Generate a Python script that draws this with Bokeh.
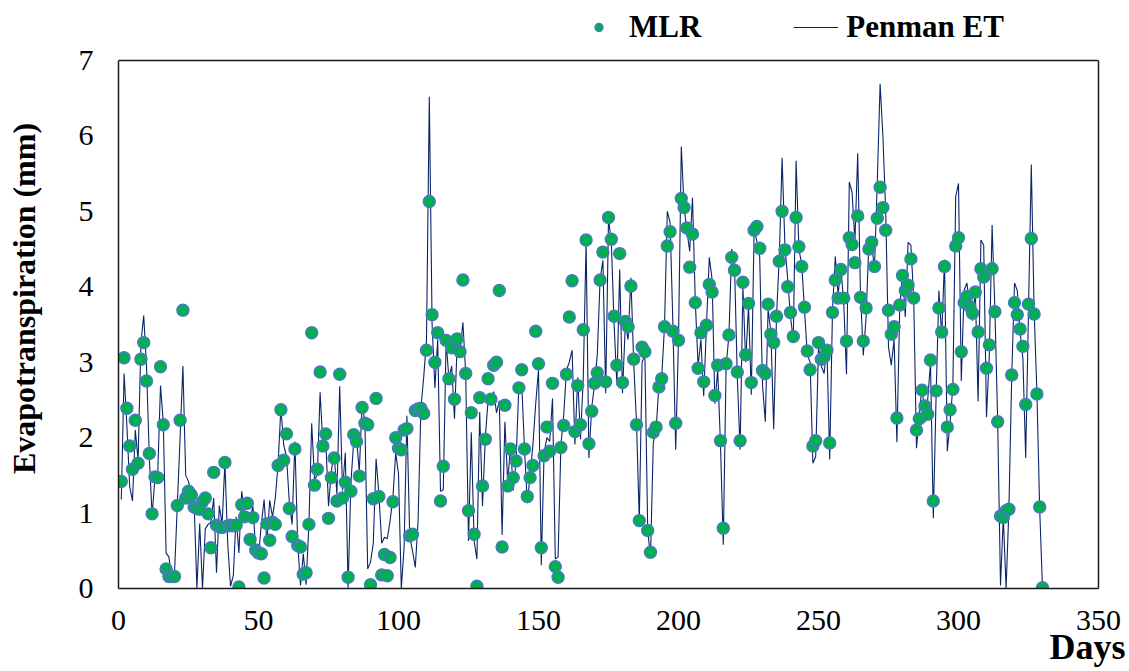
from bokeh.plotting import figure
from bokeh.models import (ColumnDataSource, FixedTicker, Legend, LegendItem, Title,
                          LinearAxis, Span)
from bokeh.embed import file_html
from bokeh.resources import INLINE

# Daily evapotranspiration (mm): MLR model estimate vs. Penman reference ET
days = list(range(1, 331))

mlr_et = [
    1.42, 3.06, 2.39, 1.89, 1.58, 2.23, 1.66, 3.04, 3.26, 2.75,
    1.79, 0.99, 1.48, 1.47, 2.94, 2.17, 0.26, 0.16, 0.16, 0.16,
    1.10, 2.23, 3.69, 1.20, 1.29, 1.24, 1.08, 1.06, 1.05, 1.15,
    1.20, 0.99, 0.54, 1.54, 0.84, 0.82, 0.81, 1.67, 0.83, 0.84,
    0.83, 0.84, 0.02, 1.11, 0.95, 1.13, 0.65, 0.94, 0.51, 0.47,
    0.46, 0.14, 0.86, 0.64, 0.88, 0.85, 1.63, 2.37, 1.70, 2.05,
    1.06, 0.69, 1.85, 0.57, 0.55, 0.19, 0.21, 0.85, 3.39, 1.37,
    1.58, 2.87, 1.89, 2.05, 0.93, 1.47, 1.73, 1.16, 2.84, 1.20,
    1.41, 0.15, 1.29, 2.04, 1.95, 1.49, 2.40, 2.19, 2.17, 0.05,
    1.19, 2.52, 1.22, 0.18, 0.45, 0.17, 0.41, 1.15, 2.00, 1.86,
    1.84, 2.10, 2.12, 0.70, 0.72, 2.36, 2.38, 2.39, 2.32, 3.16,
    5.13, 3.63, 3.00, 3.39, 1.16, 1.62, 3.29, 2.78, 3.19, 2.51,
    3.31, 3.14, 4.09, 2.85, 1.03, 2.33, 0.72, 0.03, 2.53, 1.36,
    1.98, 2.78, 2.51, 2.96, 3.00, 3.95, 0.55, 2.43, 1.36, 1.85,
    1.47, 1.69, 2.66, 2.90, 1.85, 1.22, 1.47, 1.63, 3.41, 2.98,
    0.54, 1.76, 2.14, 1.82, 2.72, 0.29, 0.15, 1.87, 2.16, 2.84,
    3.60, 4.08, 2.08, 2.69, 2.17, 3.43, 4.62, 1.92, 2.35, 2.72,
    2.86, 4.09, 4.46, 2.74, 4.92, 4.63, 3.61, 2.96, 4.44, 2.73,
    3.54, 3.47, 4.01, 3.04, 2.17, 0.90, 3.20, 3.14, 0.77, 0.48,
    2.07, 2.14, 2.67, 2.78, 3.47, 4.54, 4.73, 3.41, 2.19, 3.29,
    5.17, 5.05, 4.78, 4.26, 4.70, 3.79, 2.92, 3.39, 2.74, 3.49,
    4.03, 3.93, 2.56, 2.96, 1.96, 0.80, 2.98, 3.36, 4.39, 4.22,
    2.87, 1.96, 4.06, 3.10, 3.78, 2.73, 4.75, 4.80, 4.51, 2.89,
    2.85, 3.77, 3.37, 3.26, 3.61, 4.34, 5.00, 4.49, 4.00, 3.66,
    3.34, 4.92, 4.53, 4.27, 3.73, 3.15, 2.90, 1.89, 1.96, 3.26,
    3.04, 3.07, 3.16, 1.93, 3.66, 4.09, 3.85, 4.23, 3.85, 3.28,
    4.65, 4.56, 4.32, 4.94, 3.86, 3.28, 3.72, 4.50, 4.59, 4.27,
    4.91, 5.32, 5.05, 4.75, 3.69, 3.37, 3.47, 2.26, 3.76, 4.15,
    3.95, 4.02, 4.37, 3.85, 2.10, 2.25, 2.63, 2.42, 2.31, 3.03,
    1.16, 2.62, 3.72, 3.40, 4.27, 2.14, 2.37, 2.64, 4.54, 4.65,
    3.14, 3.79, 3.87, 3.74, 3.65, 3.93, 3.40, 4.24, 4.13, 2.92,
    3.23, 4.24, 3.67, 2.21, 0.96, 0.94, 1.03, 1.05, 2.83, 3.79,
    3.63, 3.44, 3.21, 2.44, 3.77, 4.64, 3.64, 2.58, 1.08, 0.01,
]

penman_et = [
    1.18, 2.85, 2.15, 1.35, 1.16, 2.10, 1.70, 3.25, 3.62, 2.95,
    1.75, 0.97, 1.45, 1.50, 2.69, 2.20, 0.47, 0.42, 0.15, 0.20,
    1.10, 2.00, 2.95, 1.50, 1.42, 1.25, 1.15, 0.00, 0.86, 0.00,
    0.79, 0.85, 0.88, 1.20, 0.21, 1.10, 0.85, 1.67, 0.60, 0.03,
    0.17, 0.95, 0.47, 1.29, 1.00, 1.02, 0.90, 1.09, 0.52, 0.42,
    0.85, 1.18, 0.60, 1.17, 0.95, 1.20, 1.65, 2.40, 1.90, 1.75,
    1.15, 0.85, 1.95, 0.60, 0.04, 0.46, 0.05, 0.85, 2.19, 1.45,
    1.50, 2.60, 1.90, 2.00, 1.09, 1.55, 1.80, 1.25, 2.68, 1.30,
    1.80, 0.01, 1.40, 1.95, 2.00, 1.55, 2.45, 2.20, 0.26, 0.35,
    0.60, 1.72, 1.25, 0.60, 0.68, 0.66, 0.90, 1.20, 1.80, 1.52,
    0.00, 0.55, 2.29, 0.69, 0.50, 0.28, 0.90, 2.39, 2.80, 3.30,
    6.52, 3.50, 2.66, 3.30, 1.29, 1.31, 3.29, 2.78, 2.95, 2.25,
    3.30, 3.14, 3.53, 2.85, 0.63, 2.07, 0.63, 0.39, 2.34, 1.09,
    2.00, 2.50, 2.50, 2.61, 2.33, 2.49, 0.71, 2.21, 1.40, 1.90,
    1.30, 1.70, 2.70, 2.73, 1.85, 1.13, 1.50, 1.90, 2.45, 2.90,
    0.31, 1.80, 2.00, 1.95, 2.52, 0.39, 0.42, 1.90, 2.30, 2.90,
    3.00, 3.16, 1.91, 2.80, 1.98, 2.80, 4.60, 1.73, 2.40, 2.70,
    3.10, 4.10, 4.35, 2.59, 4.90, 4.60, 3.50, 2.70, 4.23, 2.59,
    3.50, 3.30, 4.12, 3.00, 2.20, 0.90, 3.00, 3.10, 0.77, 0.42,
    1.93, 2.10, 2.70, 2.80, 3.47, 5.00, 4.85, 3.50, 1.84, 3.30,
    5.86, 5.05, 4.75, 4.47, 5.18, 3.80, 2.95, 3.30, 2.55, 3.50,
    4.39, 4.10, 2.45, 2.90, 1.90, 0.58, 2.95, 3.35, 4.50, 4.30,
    2.80, 1.84, 4.00, 3.00, 3.75, 2.57, 4.75, 4.60, 4.40, 2.70,
    2.21, 3.70, 3.40, 2.11, 3.60, 4.40, 5.71, 4.55, 4.10, 3.60,
    3.30, 5.67, 4.50, 4.30, 3.70, 3.10, 3.00, 1.66, 1.75, 3.20,
    2.95, 2.85, 3.20, 1.71, 3.70, 4.40, 3.90, 4.25, 3.80, 2.84,
    5.39, 5.25, 4.60, 5.77, 3.90, 3.09, 3.60, 4.60, 4.55, 4.25,
    5.40, 6.69, 6.00, 5.00, 3.20, 2.96, 3.30, 1.94, 3.70, 4.20,
    3.60, 4.59, 4.55, 3.85, 1.86, 2.30, 2.70, 2.20, 2.50, 3.00,
    0.93, 2.55, 3.95, 3.35, 4.36, 1.82, 2.20, 2.70, 5.20, 5.37,
    2.75, 3.95, 4.05, 3.75, 3.55, 3.95, 2.48, 4.62, 4.55, 2.27,
    3.10, 4.82, 3.70, 2.20, 0.04, 0.94, 0.00, 1.05, 2.80, 4.05,
    3.95, 3.40, 3.05, 1.73, 3.70, 5.62, 3.70, 2.60, 1.05, 0.00,
]

x_ticks = [0, 50, 100, 150, 200, 250, 300, 350]
y_ticks = [0, 1, 2, 3, 4, 5, 6, 7]
x_max = 350
y_max = 7

SERIF = "Liberation Serif"
BOX = "#1a1a1a"

src = ColumnDataSource(data=dict(day=days, mlr=mlr_et, penman=penman_et))

# The frame reaches the top of the canvas so the legend can sit above the
# boxed data area; the box itself is drawn from bounded axes and a span.
top_pad = 60 / 528 * y_max
p = figure(
    width=1129, height=671,
    x_range=(0, x_max), y_range=(0, y_max + top_pad),
    output_backend="svg", toolbar_location=None,
    min_border_left=118, min_border_right=31,
    min_border_top=0, min_border_bottom=83,
)
p.background_fill_color = "white"
p.border_fill_color = "white"
p.outline_line_color = None
p.xgrid.visible = False
p.ygrid.visible = False

for ax in (p.xaxis[0], p.yaxis[0]):
    ax.axis_line_color = BOX
    ax.axis_line_width = 1.5
    ax.major_tick_line_color = None
    ax.minor_tick_line_color = None
    ax.major_tick_out = 0
    ax.major_tick_in = 0
    ax.major_label_text_font = SERIF
    ax.major_label_text_font_size = "30px"
    ax.major_label_text_color = "black"

p.xaxis[0].ticker = FixedTicker(ticks=x_ticks)
p.yaxis[0].ticker = FixedTicker(ticks=y_ticks)
p.yaxis[0].bounds = (0, y_max)
p.xaxis[0].major_label_standoff = 22
p.yaxis[0].major_label_standoff = 25

p.yaxis[0].axis_label = "Evapotranspiration  (mm)"
p.yaxis[0].axis_label_text_font = SERIF
p.yaxis[0].axis_label_text_font_style = "bold"
p.yaxis[0].axis_label_text_font_size = "32px"
p.yaxis[0].axis_label_text_color = "black"
p.yaxis[0].axis_label_standoff = 34

right_axis = LinearAxis(bounds=(0, y_max), ticker=FixedTicker(ticks=[]),
                        axis_line_color=BOX, axis_line_width=1.5,
                        major_tick_line_color=None, minor_tick_line_color=None,
                        major_label_text_font_size="0px")
p.add_layout(right_axis, "right")
p.add_layout(Span(location=y_max, dimension="width",
                  line_color=BOX, line_width=1.5))

ln = p.line("day", "penman", source=src, line_color="#0b2466", line_width=1.1)
sc = p.scatter("day", "mlr", source=src, size=12, marker="circle",
               fill_color="#00b050", line_color="#4a78c8", line_width=1.4)

x_title = Title(text="Days", align="right", offset=-27, standoff=-16,
                text_font=SERIF, text_font_style="bold",
                text_font_size="36px", text_color="black")
p.add_layout(x_title, "below")

legend = Legend(
    items=[LegendItem(label="MLR", renderers=[sc]),
           LegendItem(label="Penman ET", renderers=[ln])],
    orientation="horizontal",
    location=(458, 543),
    border_line_color=None,
    background_fill_alpha=0,
    label_text_font=SERIF,
    label_text_font_style="bold",
    label_text_font_size="31px",
    label_text_color="black",
    glyph_width=45, glyph_height=20,
    label_standoff=8, spacing=92,
    padding=0, margin=0,
)
p.add_layout(legend)

open("out.html", "w").write(file_html(p, INLINE))
